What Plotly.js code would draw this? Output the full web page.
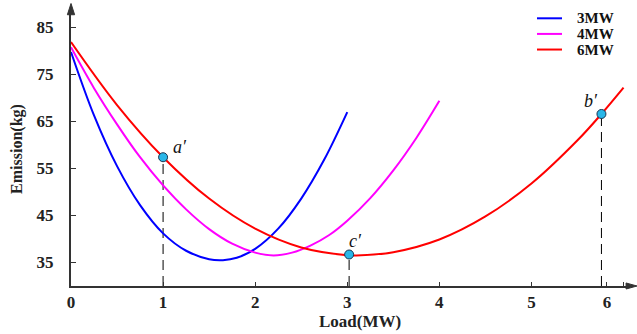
<!DOCTYPE html>
<html><head><meta charset="utf-8">
<script src="https://cdn.plot.ly/plotly-3.0.1.min.js"></script>
<style>html,body{margin:0;padding:0;background:#fff;}#chart{width:637px;height:334px;}</style>
</head><body><div id="chart"></div>
<script>
// Load (MW) and Emission (kg)
const load3 = [0, 0.25, 0.5, 0.75, 1.0, 1.25, 1.5, 1.65, 1.8, 2.0, 2.25, 2.5, 2.75, 3.0];
const emis3 = [79.7, 66.2, 55.4, 47.1, 41.1, 37.4, 35.6, 35.4, 35.9, 37.8, 42.1, 48.5, 56.8, 66.9];

const load4 = [0, 0.25, 0.5, 0.75, 1.0, 1.25, 1.5, 1.75, 2.0, 2.2, 2.4, 2.6, 2.8, 3.0, 3.25, 3.5, 3.75, 4.0];
const emis4 = [80.7, 72.0, 64.3, 57.3, 51.3, 46.2, 42.0, 38.9, 37.0, 36.4, 37.0, 38.5, 40.7, 43.8, 48.6, 54.5, 61.4, 69.3];

const load6 = [0, 0.5, 1.0, 1.5, 2.0, 2.5, 3.0, 3.1, 3.5, 4.0, 4.5, 5.0, 5.5, 5.76, 6.0];
const emis6 = [81.8, 68.4, 57.3, 48.5, 42.1, 38.1, 36.45, 36.4, 37.1, 39.8, 44.7, 51.7, 60.9, 66.5, 72.1];

const seriesNames = ['3MW', '4MW', '6MW'];
const seriesColors = ['#0000ff', '#ff00ff', '#ff0000'];

const ptLabels = ['a′', 'c′', 'b′'];
const ptLoad = [1.0, 3.02, 5.76];
const ptEmis = [57.3, 36.6, 66.5];

const xTickVals = [0, 1, 2, 3, 4, 5, 5.82, 6];
const xTickText = ['0', '1', '2', '3', '4', '5', '6', ''];
const yTicks = [35, 45, 55, 65, 75, 85];

const serif = 'Liberation Serif, Times New Roman, serif';
const loads = [load3, load4, load6];
const emis = [emis3, emis4, emis6];

const traces = seriesNames.map((n, i) => ({
  x: loads[i], y: emis[i], name: n, type: 'scatter', mode: 'lines',
  line: {color: seriesColors[i], width: 2, shape: 'spline', smoothing: 1},
  hoverinfo: 'skip', showlegend: false
}));
traces.push({
  x: ptLoad, y: ptEmis, mode: 'markers', type: 'scatter', showlegend: false,
  marker: {size: 9, color: '#29b6e8', line: {color: '#1b3550', width: 1}}
});

const yMin = 29.9, yMax = 88.2;
const shapes = ptLoad.map((x, i) => ({
  type: 'line', xref: 'x', yref: 'y', x0: x, x1: x, y0: yMin, y1: ptEmis[i],
  line: {color: '#000', width: 1, dash: '10px,6px'}, layer: 'below'
}));
// axis arrowheads
shapes.push({type: 'path', xref: 'paper', yref: 'paper',
  path: 'M -0.0065,0.990 L 0,1.031 L 0.0065,0.990 Z', fillcolor: '#333', line: {color: '#333', width: 1}});
shapes.push({type: 'path', xref: 'paper', yref: 'paper',
  path: 'M 0.993,-0.011 L 1.0125,0 L 0.993,0.011 Z', fillcolor: '#333', line: {color: '#333', width: 1}});

// legend (drawn compactly as in the original)
const legY = [0.977, 0.920, 0.863];
seriesNames.forEach((n, i) => {
  shapes.push({type: 'line', xref: 'paper', yref: 'paper', x0: 0.8336, x1: 0.8784, y0: legY[i], y1: legY[i],
    line: {color: seriesColors[i], width: 2}});
});

const annOff = [{dx: 17, dy: 10}, {dx: 6, dy: 14}, {dx: -10, dy: 13}];
const annotations = ptLabels.map((t, i) => ({
  x: ptLoad[i], y: ptEmis[i], xref: 'x', yref: 'y', text: t, showarrow: false,
  xshift: annOff[i].dx, yshift: annOff[i].dy,
  font: {family: serif, size: 18, color: '#111', style: 'italic'}
}));
seriesNames.forEach((n, i) => {
  annotations.push({x: 0.903, y: legY[i], xref: 'paper', yref: 'paper', text: n, showarrow: false,
    xanchor: 'left', yanchor: 'middle', borderpad: 0,
    font: {family: serif, size: 15, color: '#111', weight: 'bold'}});
});
annotations.push({x: 0.517, y: -0.13, xref: 'paper', yref: 'paper', text: 'Load(MW)', showarrow: false,
  xanchor: 'center', yanchor: 'middle',
  font: {family: serif, size: 17, color: '#222', weight: 'bold'}});

const layout = {
  width: 637, height: 334,
  margin: {l: 71, r: 7, t: 12, b: 48},
  paper_bgcolor: '#fff', plot_bgcolor: '#fff',
  showlegend: false,
  xaxis: {
    range: [0, 6.07], tickvals: xTickVals, ticktext: xTickText,
    showgrid: false, zeroline: false, showline: true, linecolor: '#333', linewidth: 2,
    ticks: 'inside', ticklen: 4, tickcolor: '#333', tickwidth: 1,
    ticklabelstandoff: 0,
    tickfont: {family: serif, size: 17, color: '#222', weight: 'bold'}
  },
  yaxis: {
    range: [yMin, yMax], tickvals: yTicks,
    showgrid: false, zeroline: false, showline: true, linecolor: '#333', linewidth: 2,
    ticks: 'inside', ticklen: 5, tickcolor: '#333', tickwidth: 1,
    ticklabelstandoff: 12,
    tickfont: {family: serif, size: 17, color: '#222', weight: 'bold'},
    title: {text: 'Emission(kg)', standoff: 10, font: {family: serif, size: 16, color: '#222', weight: 'bold'}}
  },
  shapes: shapes,
  annotations: annotations
};

Plotly.newPlot('chart', traces, layout, {staticPlot: true, displayModeBar: false});
</script></body></html>
